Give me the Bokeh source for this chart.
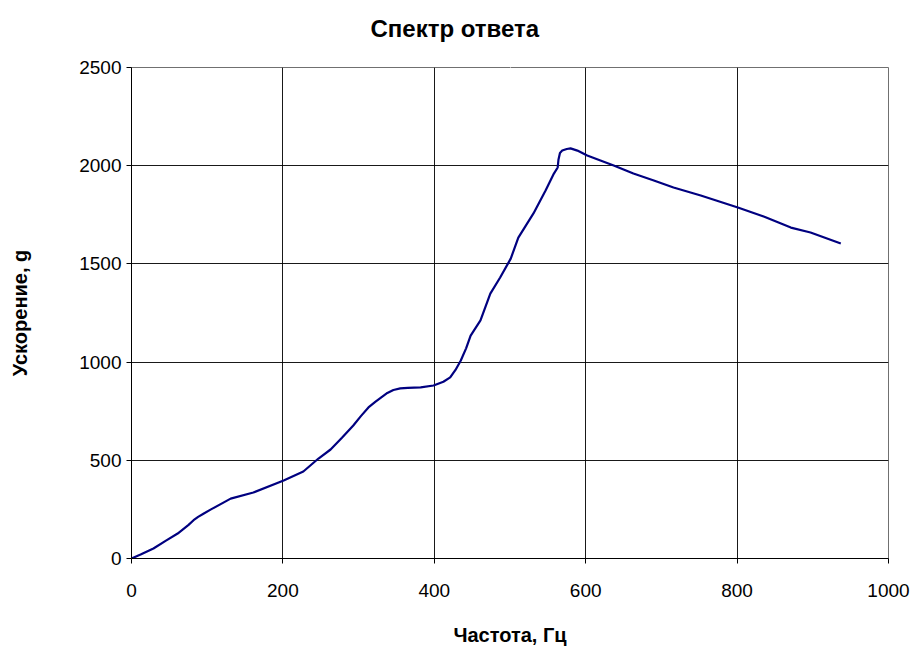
from bokeh.plotting import figure
from bokeh.models import FixedTicker, Range1d, Title, LinearAxis
from bokeh.embed import file_html
from bokeh.resources import INLINE

# Response spectrum: frequency (Hz) vs acceleration (g)
freq = [0, 12, 29, 45, 61, 75, 82, 88, 95, 105, 131, 161, 201, 227, 247, 263,
        278, 293, 303, 313, 322, 330, 338, 346, 355, 365, 382, 399, 412, 421, 428,
        435, 442, 448, 461, 474, 487, 501, 511, 531, 547, 558, 563,
        564, 566, 569, 575, 580, 589, 602, 637, 663, 690, 716, 752,
        801, 836, 871, 897, 937]
accel = [0, 20, 51, 90, 127, 170, 195, 212, 228, 250, 305, 336, 397, 443, 509, 555,
         615, 677, 725, 769, 797, 820, 843, 858, 866, 869, 871, 881, 900, 922, 960,
         1008, 1070, 1135, 1212, 1349, 1431, 1527, 1634, 1757, 1874, 1960, 1991,
         2030, 2065, 2077, 2085, 2088, 2077, 2052, 2001, 1960, 1925, 1889, 1848,
         1787, 1740, 1685, 1660, 1604]

x_ticks = [0, 200, 400, 600, 800, 1000]
y_ticks = [0, 500, 1000, 1500, 2000, 2500]

chart_title = "Спектр ответа"

FONT = "Liberation Sans"

p = figure(width=912, height=648, output_backend="svg", toolbar_location=None,
           x_range=Range1d(0, 1000), y_range=Range1d(0, 2500),
           x_axis_label="Частота, Гц", y_axis_label="Ускорение, g")

p.min_border_left = 131
p.min_border_right = 24
p.min_border_top = 67
p.min_border_bottom = 90

p.line(freq, accel, line_color="#000080", line_width=2.2)

p.xaxis.ticker = FixedTicker(ticks=x_ticks)
p.yaxis.ticker = FixedTicker(ticks=y_ticks)

for ax in (p.xaxis, p.yaxis):
    ax.axis_line_color = "#000000"
    ax.axis_line_width = 1
    ax.major_tick_line_color = "#000000"
    ax.major_tick_in = 0
    ax.major_tick_out = 5
    ax.minor_tick_line_color = None
    ax.major_label_text_font = FONT
    ax.major_label_text_font_size = "19px"
    ax.major_label_text_color = "#000000"
    ax.axis_label_text_font = FONT
    ax.axis_label_text_font_size = "20px"
    ax.axis_label_text_font_style = "bold"
    ax.axis_label_text_color = "#000000"

p.xaxis.major_label_standoff = 20
p.xaxis.axis_label_standoff = 24
p.yaxis.major_label_standoff = 5
p.yaxis.axis_label_standoff = 45

p.grid.grid_line_color = "#000000"
p.grid.grid_line_width = 1
p.grid.grid_line_alpha = 0.9

p.outline_line_color = "#707070"
p.outline_line_width = 1
p.background_fill_color = "#ffffff"
p.border_fill_color = "#ffffff"

# Blank top axis (white tick, no label) that keeps a gap between frame and heading
gap_axis = LinearAxis(ticker=FixedTicker(ticks=[500]),
                      major_label_overrides={500: ""},
                      axis_line_color=None,
                      major_tick_line_color="#ffffff",
                      minor_tick_line_color=None,
                      major_tick_in=0, major_tick_out=24, minor_tick_out=0,
                      major_label_standoff=0,
                      major_label_text_font_size="1px",
                      major_label_text_color="#ffffff")
p.add_layout(gap_axis, "above")

# Chart heading, centred over the whole page
p.add_layout(Title(text=chart_title, align="left", offset=239, standoff=4,
                   text_font=FONT, text_font_size="24px", text_font_style="bold",
                   text_color="#000000"), "above")

open("out.html", "w").write(file_html(p, INLINE))
